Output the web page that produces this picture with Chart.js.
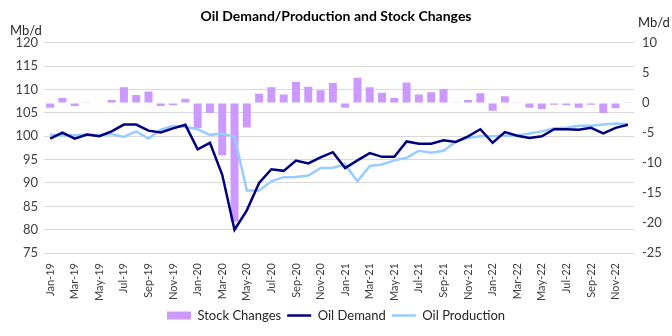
<!DOCTYPE html>
<html>
<head>
<meta charset="utf-8">
<style>
  html, body { margin: 0; padding: 0; background: #fff; }
  #wrap { width: 672px; height: 336px; }
</style>
</head>
<body>
<div id="wrap">
  <canvas id="myChart" width="672" height="336"></canvas>
</div>
<script src="https://cdn.jsdelivr.net/npm/chart.js"></script>
<script>
  const months = [
    "Jan-19", "Feb-19", "Mar-19", "Apr-19", "May-19", "Jun-19", "Jul-19", "Aug-19", "Sep-19", "Oct-19", "Nov-19", "Dec-19",
    "Jan-20", "Feb-20", "Mar-20", "Apr-20", "May-20", "Jun-20", "Jul-20", "Aug-20", "Sep-20", "Oct-20", "Nov-20", "Dec-20",
    "Jan-21", "Feb-21", "Mar-21", "Apr-21", "May-21", "Jun-21", "Jul-21", "Aug-21", "Sep-21", "Oct-21", "Nov-21", "Dec-21",
    "Jan-22", "Feb-22", "Mar-22", "Apr-22", "May-22", "Jun-22", "Jul-22", "Aug-22", "Sep-22", "Oct-22", "Nov-22", "Dec-22",
  ];

  // Mb/d, right axis
  const stockChanges = [
    -0.8, 0.8, -0.5, 0.1, -0.1, 0.5, 2.6, 1.3, 1.9, -0.5, -0.4, 0.7,
    -4.2, -1.7, -8.7, -19.8, -4.1, 1.5, 2.6, 1.4, 3.5, 2.7, 2.1, 3.3,
    -0.8, 4.2, 2.6, 1.7, 0.8, 3.4, 1.4, 1.75, 2.3, 0.1, 0.5, 1.6,
    -1.3, 1.1, 0.1, -0.8, -1.0, -0.3, -0.4, -0.8, -0.3, -1.7, -0.9, 0.1,
  ];

  // Mb/d, left axis
  const oilDemand = [
    99.5, 100.8, 99.5, 100.35, 100.0, 101.05, 102.5, 102.5, 101.2, 100.8, 101.7, 102.45,
    97.2, 98.6, 91.75, 80.0, 84.15, 90.0, 92.95, 92.6, 94.8, 94.2, 95.5, 96.6,
    93.2, 94.85, 96.4, 95.6, 95.6, 98.9, 98.4, 98.4, 99.15, 98.8, 100.0, 101.5,
    98.6, 100.9, 100.1, 99.65, 100.0, 101.5, 101.5, 101.4, 101.8, 100.6, 101.8, 102.45,
  ];

  const oilProduction = [
    100.35, 100.2, 100.2, 100.4, 100.2, 100.5, 99.85, 101.05, 99.5, 101.4, 102.2, 102.0,
    101.5, 100.3, 100.6, 99.9, 88.4, 88.4, 90.35, 91.25, 91.3, 91.6, 93.2, 93.25,
    93.95, 90.35, 93.65, 93.95, 94.85, 95.4, 96.9, 96.5, 96.9, 98.8, 99.65, 100.0,
    100.0, 100.1, 100.15, 100.6, 101.05, 101.7, 101.8, 102.25, 102.25, 102.5, 102.75, 102.6,
  ];

  const unitLabels = {
    id: "unitLabels",
    afterDraw(chart) {
      const ctx = chart.ctx;
      ctx.save();
      ctx.font = "13px Lato";
      ctx.fillStyle = "#262626";
      ctx.textBaseline = "middle";
      ctx.textAlign = "left";
      ctx.fillText("Mb/d", 10, 31);
      ctx.fillText("Mb/d", 638, 23);
      ctx.restore();
    },
  };

  Chart.defaults.font.family = "Lato";
  Chart.defaults.color = "#404040";

  new Chart(document.getElementById("myChart"), {
    type: "bar",
    data: {
      labels: months,
      datasets: [
        {
          type: "bar",
          label: "Stock Changes",
          data: stockChanges,
          yAxisID: "y2",
          backgroundColor: "#cc99ff",
          borderWidth: 0,
          categoryPercentage: 1,
          barPercentage: 0.65,
          pointStyle: "rect",
          order: 2,
        },
        {
          type: "line",
          label: "Oil Demand",
          data: oilDemand,
          yAxisID: "y",
          borderColor: "#000080",
          backgroundColor: "#000080",
          borderWidth: 2.5,
          pointRadius: 0,
          pointStyle: "line",
          tension: 0,
          order: 1,
        },
        {
          type: "line",
          label: "Oil Production",
          data: oilProduction,
          yAxisID: "y",
          borderColor: "#99ccff",
          backgroundColor: "#99ccff",
          borderWidth: 2.5,
          pointRadius: 0,
          pointStyle: "line",
          tension: 0,
          order: 1,
        },
      ],
    },
    options: {
      responsive: false,
      animation: false,
      layout: { padding: { left: 0, right: 0, bottom: 4 } },
      plugins: {
        title: {
          display: true,
          text: "Oil Demand/Production and Stock Changes",
          color: "#000000",
          font: { size: 14, weight: "bold" },
          padding: { top: 8, bottom: 18 },
        },
        legend: {
          position: "bottom",
          labels: {
            usePointStyle: true,
            pointStyleWidth: 24,
            boxHeight: 8,
            padding: 6,
            color: "#262626",
            font: { size: 13 },
            sort: (a, b) => a.datasetIndex - b.datasetIndex,
          },
        },
        tooltip: { enabled: false },
      },
      scales: {
        x: {
          grid: { display: false },
          border: { display: false },
          ticks: {
            autoSkip: false,
            minRotation: 90,
            maxRotation: 90,
            padding: 2,
            font: { size: 11 },
            callback: (v, i) => (i % 2 === 0 ? months[i] : ""),
          },
        },
        y: {
          position: "left",
          min: 75,
          max: 120,
          ticks: { stepSize: 5, font: { size: 13 }, padding: 6 },
          grid: { color: "#d9d9d9", lineWidth: 1, drawTicks: false },
          border: { display: false },
          afterFit: (s) => { s.width = 44; },
        },
        y2: {
          position: "right",
          min: -25,
          max: 10,
          ticks: { stepSize: 5, font: { size: 13 }, padding: 8 },
          grid: { drawOnChartArea: false, drawTicks: false },
          border: { display: false },
          afterFit: (s) => { s.width = 38; },
        },
      },
    },
    plugins: [unitLabels],
  });
</script>
</body>
</html>
